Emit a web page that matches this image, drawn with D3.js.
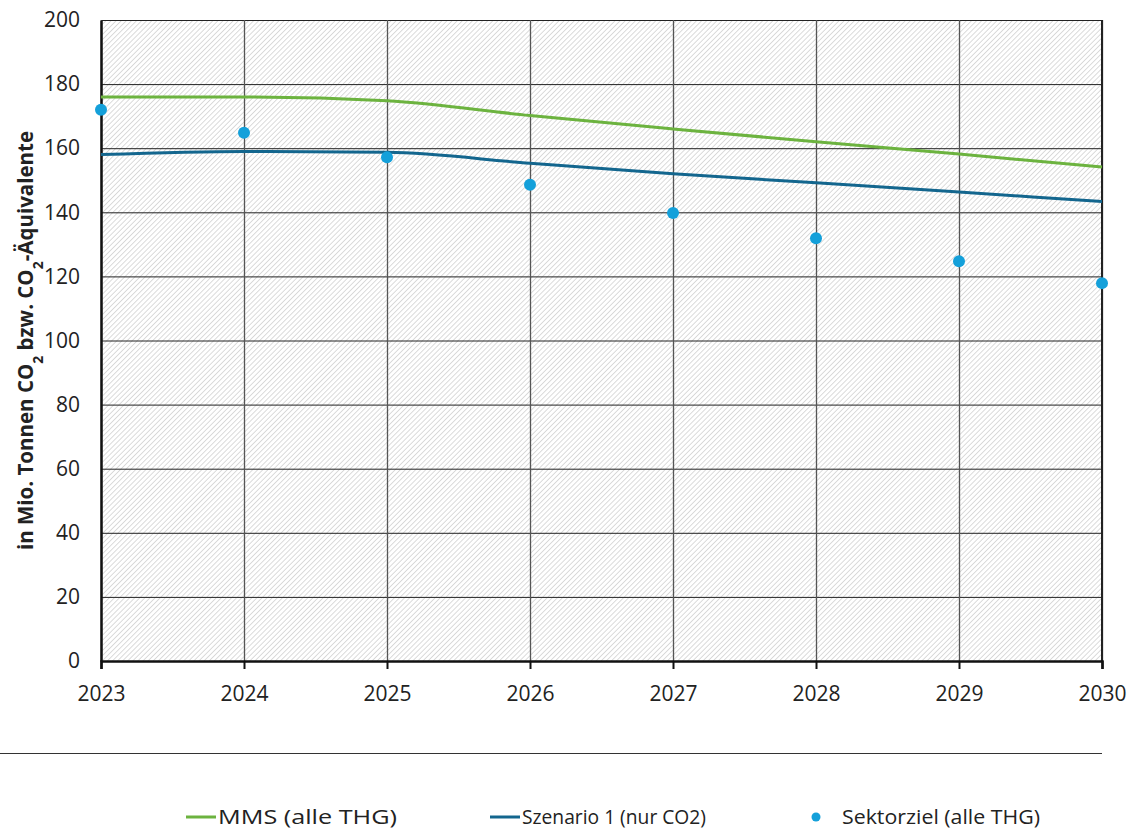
<!DOCTYPE html>
<html>
<head>
<meta charset="utf-8">
<script src="https://cdn.jsdelivr.net/npm/d3@7"></script>
<style>
  body { margin: 0; background: #fff; }
  text { font-family: "Open Sans", "Noto Sans", sans-serif; fill: #222; }
</style>
</head>
<body>
<svg id="chart" width="1131" height="829"></svg>
<script>
var years = [2023, 2024, 2025, 2026, 2027, 2028, 2029, 2030];
var mms = [176, 176, 174.8, 170.2, 166, 162, 158.2, 154.1];
var szenario1 = [158, 159, 158.7, 155.3, 152, 149.2, 146.3, 143.4];
var sektorziel = [172, 164.8, 157.2, 148.6, 139.8, 131.9, 124.7, 117.9];
var yTicks = [0, 20, 40, 60, 80, 100, 120, 140, 160, 180, 200];

var margin = { top: 20, right: 29, bottom: 168, left: 101 },
  width = 1131 - margin.left - margin.right,
  height = 829 - margin.top - margin.bottom;

var svg = d3.select('#chart');

// hatch pattern for the plot background
var defs = svg.append('defs');
var pat = defs.append('pattern')
  .attr('id', 'hatch')
  .attr('patternUnits', 'userSpaceOnUse')
  .attr('width', 3.6)
  .attr('height', 3.6)
  .attr('patternTransform', 'rotate(45)');
pat.append('rect').attr('width', 3.6).attr('height', 3.6).attr('fill', '#fff');
pat.append('line')
  .attr('x1', 0).attr('y1', 0).attr('x2', 0).attr('y2', 3.6)
  .attr('stroke', '#d2d2d2')
  .attr('stroke-width', 1.6);

var g = svg.append('g')
  .attr('transform', 'translate(' + margin.left + ',' + margin.top + ')');

var x = d3.scaleLinear().domain([2023, 2030]).range([0, width]);
var y = d3.scaleLinear().domain([0, 200]).range([height, 0]);

g.append('rect')
  .attr('width', width)
  .attr('height', height)
  .attr('fill', 'url(#hatch)');

// grid lines
g.append('g')
  .call(d3.axisLeft(y).tickValues(yTicks).tickSize(-width).tickFormat(''))
  .call(s => s.select('.domain').remove())
  .selectAll('line').attr('stroke', '#222').attr('stroke-width', 1);

g.append('g')
  .call(d3.axisBottom(x).tickValues(years).tickSize(height).tickFormat(''))
  .call(s => s.select('.domain').remove())
  .selectAll('line').attr('stroke', '#555').attr('stroke-width', 1.3);

// right border
g.append('line')
  .attr('x1', width).attr('x2', width).attr('y1', 0).attr('y2', height)
  .attr('stroke', '#222').attr('stroke-width', 2);

// axes
var yAxis = g.append('g')
  .call(d3.axisLeft(y).tickValues(yTicks).tickSize(0).tickPadding(21));
yAxis.select('.domain').attr('stroke', '#111').attr('stroke-width', 2.5);
yAxis.selectAll('text').style('font-size', '21px').attr('fill', '#222');

var xAxis = g.append('g')
  .attr('transform', 'translate(0,' + height + ')')
  .call(d3.axisBottom(x).tickValues(years).tickSize(8).tickPadding(17).tickFormat(d3.format('d')));
xAxis.select('.domain').attr('stroke', '#111').attr('stroke-width', 2.5);
xAxis.selectAll('line').attr('stroke', '#111').attr('stroke-width', 2);
xAxis.selectAll('text').style('font-size', '21px').attr('fill', '#222');

// lines
var line = d3.line()
  .x(function(d, i) { return x(years[i]); })
  .y(function(d) { return y(d); })
  .curve(d3.curveMonotoneX);

g.append('path')
  .datum(mms)
  .attr('fill', 'none')
  .attr('stroke', '#6cb33f')
  .attr('stroke-width', 3)
  .attr('d', line);

g.append('path')
  .datum(szenario1)
  .attr('fill', 'none')
  .attr('stroke', '#13668e')
  .attr('stroke-width', 3)
  .attr('d', line);

g.selectAll('.dot')
  .data(sektorziel)
  .enter().append('circle')
  .attr('class', 'dot')
  .attr('cx', function(d, i) { return x(years[i]); })
  .attr('cy', function(d) { return y(d); })
  .attr('r', 6)
  .attr('fill', '#14a0da');

// y-axis title with subscripts
var title = svg.append('text')
  .attr('transform', 'translate(33,' + (margin.top + height / 2) + ') rotate(-90)')
  .attr('text-anchor', 'middle')
  .style('font-size', '20.5px')
  .style('font-weight', 'bold');
title.append('tspan').text('in Mio. Tonnen CO');
title.append('tspan').attr('baseline-shift', 'sub').style('font-size', '14px').text('2');
title.append('tspan').text(' bzw. CO');
title.append('tspan').attr('baseline-shift', 'sub').style('font-size', '14px').text('2');
title.append('tspan').text('-Äquivalente');

// separator line
svg.append('line')
  .attr('x1', 0).attr('x2', margin.left + width)
  .attr('y1', 753.5).attr('y2', 753.5)
  .attr('stroke', '#333').attr('stroke-width', 1);

// legend
var legend = svg.append('g').attr('transform', 'translate(0,817)');
var items = [
  { label: 'MMS (alle THG)', color: '#6cb33f', type: 'line', x: 186, w: 179 },
  { label: 'Szenario 1 (nur CO2)', color: '#13668e', type: 'line', x: 490, w: 184 },
  { label: 'Sektorziel (alle THG)', color: '#14a0da', type: 'dot', x: 810, w: 198 }
];
items.forEach(function(it) {
  var li = legend.append('g').attr('transform', 'translate(' + it.x + ',0)');
  if (it.type === 'line') {
    li.append('line').attr('x1', 0).attr('x2', 30).attr('y1', 0).attr('y2', 0)
      .attr('stroke', it.color).attr('stroke-width', 3);
  } else {
    li.append('circle').attr('cx', 6).attr('cy', 0).attr('r', 4.5).attr('fill', it.color);
  }
  li.append('text').attr('x', it.type === 'line' ? 32 : 32).attr('dy', '0.35em')
    .style('font-size', '20px')
    .attr('textLength', it.w)
    .attr('lengthAdjust', 'spacingAndGlyphs')
    .text(it.label);
});
</script>
</body>
</html>
